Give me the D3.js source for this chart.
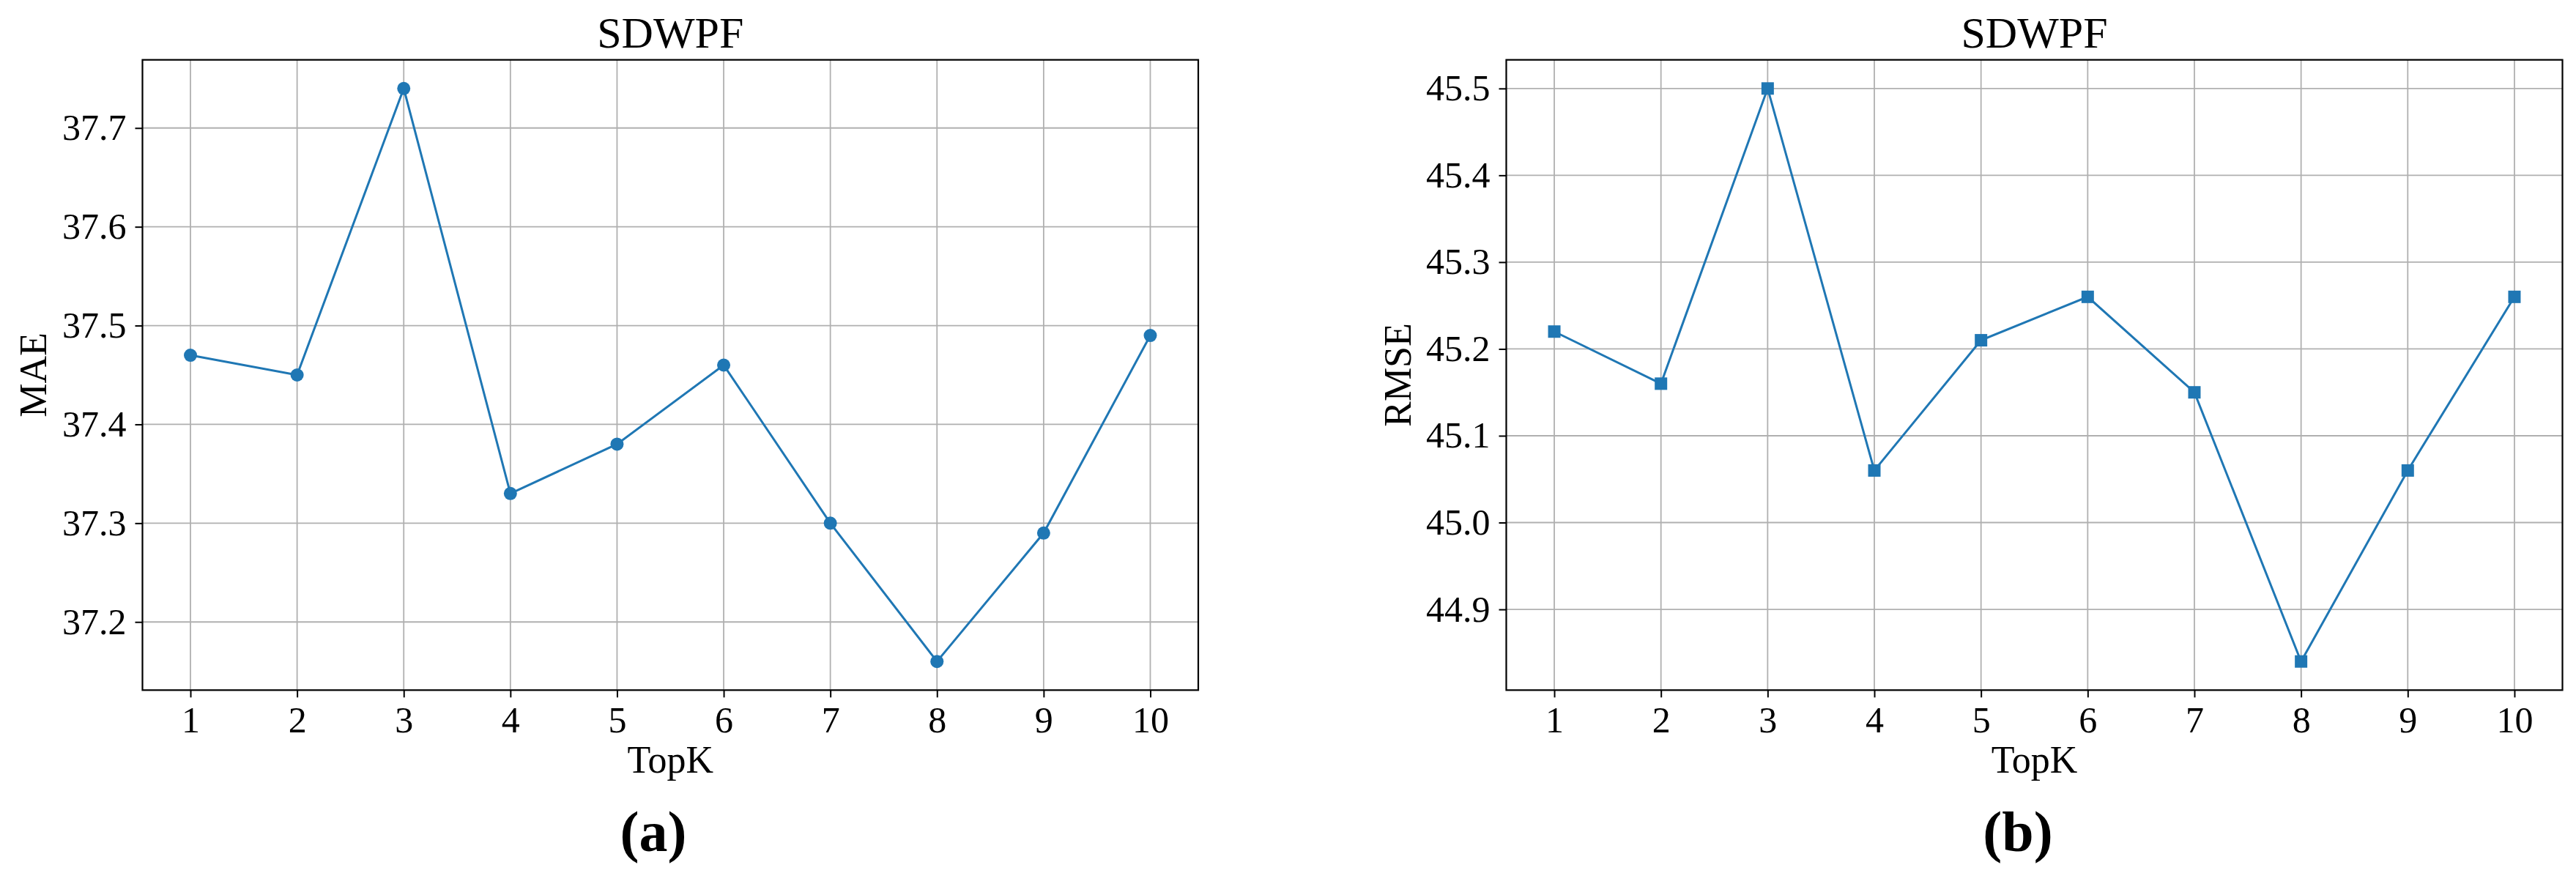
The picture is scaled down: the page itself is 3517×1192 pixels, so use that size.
<!DOCTYPE html>
<html>
<head>
<meta charset="utf-8">
<script src="https://cdn.jsdelivr.net/npm/d3@7/dist/d3.min.js"></script>
<style>
  html, body { margin: 0; padding: 0; background: #fff; }
  svg { display: block; }
  text { font-family: "Liberation Serif", "Times New Roman", serif; fill: #000; }
</style>
</head>
<body>
<svg id="chart" width="3517" height="1192"></svg>
<script>
// ---- data ----
const topK = [1, 2, 3, 4, 5, 6, 7, 8, 9, 10];
const maeValues = [37.47, 37.45, 37.74, 37.33, 37.38, 37.46, 37.30, 37.16, 37.29, 37.49];
const rmseValues = [45.22, 45.16, 45.50, 45.06, 45.21, 45.26, 45.15, 44.84, 45.06, 45.26];
const maeTicks = [37.2, 37.3, 37.4, 37.5, 37.6, 37.7];
const rmseTicks = [44.9, 45.0, 45.1, 45.2, 45.3, 45.4, 45.5];
const titleText = "SDWPF";
const xLabelText = "TopK";

const svg = d3.select("#chart");
const color = "#1f77b4";

function panel(opts) {
  const { left, right, top, bottom, values, yTicks, yLabel, marker, tag, tagX, yLabelX } = opts;
  const g = svg.append("g");
  const xMin = d3.min(topK), xMax = d3.max(topK);
  const xPad = (xMax - xMin) * 0.05;
  const x = d3.scaleLinear().domain([xMin - xPad, xMax + xPad]).range([left, right]);
  const yMin = d3.min(values), yMax = d3.max(values);
  const yPad = (yMax - yMin) * 0.05;
  const y = d3.scaleLinear().domain([yMin - yPad, yMax + yPad]).range([bottom, top]);

  // grid
  g.append("g").selectAll("line.vx").data(topK).join("line")
    .attr("x1", d => x(d)).attr("x2", d => x(d))
    .attr("y1", top).attr("y2", bottom)
    .attr("stroke", "#b0b0b0").attr("stroke-width", 1.8);
  g.append("g").selectAll("line.hy").data(yTicks).join("line")
    .attr("x1", left).attr("x2", right)
    .attr("y1", d => y(d)).attr("y2", d => y(d))
    .attr("stroke", "#b0b0b0").attr("stroke-width", 1.8);

  // x axis
  const xAxis = d3.axisBottom(x).tickValues(topK).tickFormat(d3.format("d")).tickSize(10).tickPadding(12);
  const xa = g.append("g").attr("transform", `translate(0,${bottom})`).call(xAxis);
  xa.select(".domain").remove();
  xa.selectAll(".tick line").attr("stroke", "#000").attr("stroke-width", 2);
  xa.selectAll(".tick text").attr("font-size", 50).attr("font-family", "Liberation Serif").attr("fill", "#000");

  // y axis
  const yAxis = d3.axisLeft(y).tickValues(yTicks).tickFormat(d3.format(".1f")).tickSize(10).tickPadding(12);
  const ya = g.append("g").attr("transform", `translate(${left},0)`).call(yAxis);
  ya.select(".domain").remove();
  ya.selectAll(".tick line").attr("stroke", "#000").attr("stroke-width", 2);
  ya.selectAll(".tick text").attr("font-size", 50).attr("font-family", "Liberation Serif").attr("fill", "#000");

  // line
  const line = d3.line().x((d, i) => x(topK[i])).y(d => y(d));
  g.append("path").datum(values).attr("d", line)
    .attr("fill", "none").attr("stroke", color).attr("stroke-width", 3);

  // markers
  if (marker === "circle") {
    g.append("g").selectAll("circle").data(values).join("circle")
      .attr("cx", (d, i) => x(topK[i])).attr("cy", d => y(d)).attr("r", 9)
      .attr("fill", color);
  } else {
    const s = 17;
    g.append("g").selectAll("rect").data(values).join("rect")
      .attr("x", (d, i) => x(topK[i]) - s / 2).attr("y", d => y(d) - s / 2)
      .attr("width", s).attr("height", s).attr("fill", color);
  }

  // frame
  g.append("rect").attr("x", left).attr("y", top)
    .attr("width", right - left).attr("height", bottom - top)
    .attr("fill", "none").attr("stroke", "#000").attr("stroke-width", 2.2);

  // title
  g.append("text").attr("x", (left + right) / 2).attr("y", 65)
    .attr("text-anchor", "middle").attr("font-size", 60).text(titleText);

  // x label
  g.append("text").attr("x", (left + right) / 2).attr("y", 1055)
    .attr("text-anchor", "middle").attr("font-size", 52).text(xLabelText);

  // y label
  g.append("text").attr("transform", `translate(${yLabelX},${(top + bottom) / 2}) rotate(-90)`)
    .attr("text-anchor", "middle").attr("font-size", 52).text(yLabel);

  // panel tag
  g.append("text").attr("x", tagX).attr("y", 1162)
    .attr("text-anchor", "middle").attr("font-size", 78).attr("font-weight", "bold").text(tag);
}

panel({ left: 194.5, right: 1636, top: 81.7, bottom: 942.3, values: maeValues, yTicks: maeTicks,
  yLabel: "MAE", marker: "circle", tag: "(a)", tagX: 892, yLabelX: 63 });
panel({ left: 2056.5, right: 3498.5, top: 81.7, bottom: 942.3, values: rmseValues, yTicks: rmseTicks,
  yLabel: "RMSE", marker: "square", tag: "(b)", tagX: 2755, yLabelX: 1926 });
</script>
</body>
</html>
